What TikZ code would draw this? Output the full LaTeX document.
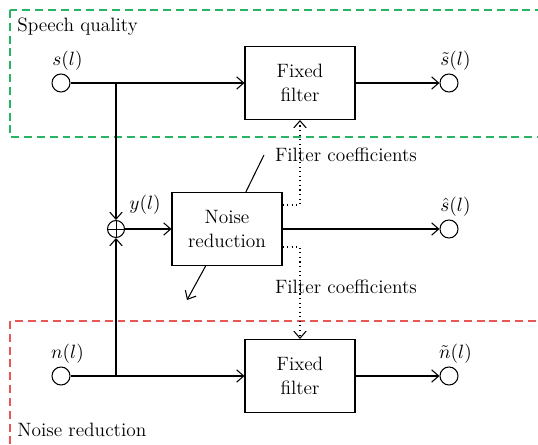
\documentclass[tikz,border=0pt]{standalone}
\usetikzlibrary{arrows.meta}
\definecolor{sqgreen}{RGB}{40,180,100}
\definecolor{nrred}{RGB}{232,86,86}
\tikzset{
  blk/.style={draw,minimum width=2.2cm,minimum height=1.46cm,align=center},
  sig/.style={draw,circle,minimum size=0.36cm,inner sep=0pt},
  adder/.style={draw,circle,minimum size=0.34cm,inner sep=0pt,
    path picture={\draw[line width=0.5pt] (path picture bounding box.north) -- (path picture bounding box.south)
      (path picture bounding box.west) -- (path picture bounding box.east);}},
  region/.style={dash pattern=on 4.5pt off 2.8pt},
  siglbl/.style={xshift=0.13cm,inner sep=1.5pt}
}
\begin{document}
\begin{tikzpicture}[x=0.02cm,y=-0.02cm,line width=0.6pt,>={Straight Barb[length=4pt,width=7pt]},font=\fontsize{11}{14}\selectfont]
    \clip (0,0) rectangle (538,445);
    \draw[sqgreen,region] (10,10) rectangle (560,137);
    \draw[nrred,region] (10,321) rectangle (560,470);
    \node[anchor=west] (sqlbl) at (11,27) {Speech quality};
    \node[anchor=west] (nrlbl) at (11,430) {Noise reduction};
    \node[sig,label={[siglbl]above:$s(l)$}] (s) at (61,83) {};
    \node[sig,label={[siglbl]above:$\tilde{s}(l)$}] (stil) at (449,83) {};
    \node[sig,label={[siglbl]above:$\hat{s}(l)$}] (shat) at (449,229) {};
    \node[sig,label={[siglbl]above:$n(l)$}] (n) at (61,376) {};
    \node[sig,label={[siglbl]above:$\tilde{n}(l)$}] (ntil) at (449,376) {};
    \node[blk] (ff1) at (300,83) {Fixed\\filter};
    \node[blk] (nr) at (227,229) {Noise\\reduction};
    \node[blk] (ff2) at (300,376) {Fixed\\filter};
    \node[adder] (add) at (116,229) {};
    \node (ylbl) at (145,205) {$y(l)$};
    \node (fc1) at (346,155) {Filter coefficients};
    \node (fc2) at (346,287) {Filter coefficients};
    \coordinate (j1) at (116,83);
    \coordinate (j2) at (116,376);
    \coordinate (k1) at (300,205);
    \coordinate (k2) at (300,247);
    \coordinate (p1) at (264,155);
    \coordinate (p2) at (187,300);
    \draw[->] (s) -- (ff1);
    \draw[->] (n) -- (ff2);
    \draw[->] (j1) -- (add);
    \draw[->] (j2) -- (add);
    \draw[->] (add) -- (nr);
    \draw[->] (nr) -- (shat);
    \draw[->] (ff1) -- (stil);
    \draw[->] (ff2) -- (ntil);
    \draw[dotted,->] (nr.east |- k1) -- (k1) -- (ff1);
    \draw[dotted,->] (nr.east |- k2) -- (k2) -- (ff2);
    \draw (nr.63) -- (p1);
    \draw[->] (nr.240) -- (p2);
\end{tikzpicture}
\end{document}
